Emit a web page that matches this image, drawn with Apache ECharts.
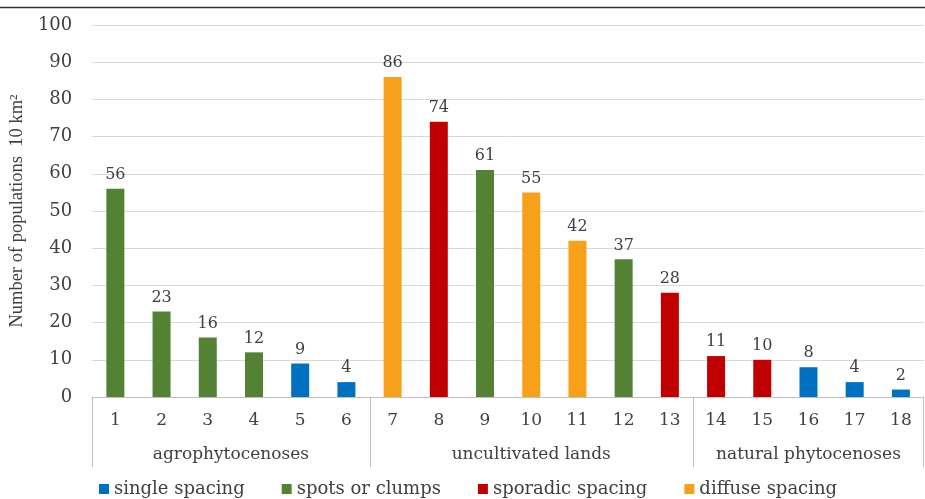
<!DOCTYPE html>
<html>
<head>
<meta charset="utf-8">
<script src="https://cdn.jsdelivr.net/npm/echarts@6/dist/echarts.min.js"></script>
<style>html,body{margin:0;padding:0;background:#fff}#c{width:925px;height:499px}</style>
</head>
<body>
<div id="c"></div>
<script>
const categories = ['1','2','3','4','5','6','7','8','9','10','11','12','13','14','15','16','17','18'];
const values = [56,23,16,12,9,4,86,74,61,55,42,37,28,11,10,8,4,2];
const patterns = ['spots','spots','spots','spots','single','single','diffuse','sporadic','spots','diffuse','diffuse','spots','sporadic','sporadic','sporadic','single','single','single'];
const seriesKeys = ['single','spots','sporadic','diffuse'];
const seriesNames = ['single spacing','spots or clumps','sporadic spacing','diffuse spacing'];
const seriesColors = ['#0070C0','#548235','#C00000','#F7A11A'];
const groups = ['agrophytocenoses','uncultivated lands','natural phytocenoses'];
const groupSizes = [6,7,5];
const yName = 'Number of populations  10 km\u00B2';

const FONT = 'DejaVu Serif';
const FONT_V = 'Liberation Serif';
const TXT = '#404040';
const chart = echarts.init(document.getElementById('c'));

const series = seriesKeys.map((k, si) => ({
  name: seriesNames[si],
  type: 'bar',
  stack: 'all',
  barWidth: 18,
  itemStyle: { color: seriesColors[si] },
  label: { show: true, position: 'top', distance: 6, color: TXT, fontFamily: FONT, fontSize: 16 },
  data: values.map((v, i) => patterns[i] === k ? v : '-')
}));

chart.setOption({
  animation: false,
  textStyle: { fontFamily: FONT },
  grid: { left: 92, right: 1, top: 25, bottom: 102 },
  legend: {
    top: 475, left: 94,
    itemWidth: 10, itemHeight: 10, itemGap: 37, icon: 'rect',
    textStyle: { fontFamily: FONT, fontSize: 18, color: TXT },
    data: seriesNames
  },
  xAxis: {
    type: 'category', data: categories,
    axisLine: { lineStyle: { color: '#bfbfbf' } },
    axisTick: { show: false },
    axisLabel: { color: TXT, fontFamily: FONT, fontSize: 17, margin: 15 }
  },
  yAxis: {
    type: 'value', min: 0, max: 100, interval: 10,
    name: yName, nameLocation: 'middle', nameGap: 62, nameRotate: 90,
    nameTextStyle: { color: TXT, fontFamily: FONT_V, fontSize: 18.5 },
    axisLine: { show: false }, axisTick: { show: false },
    axisLabel: { color: TXT, fontFamily: FONT, fontSize: 18, margin: 20 },
    splitLine: { lineStyle: { color: '#d9d9d9' } }
  },
  series: series
});

// group brackets and labels
const c0 = chart.convertToPixel({ xAxisIndex: 0 }, 0);
const c1 = chart.convertToPixel({ xAxisIndex: 0 }, 1);
const band = c1 - c0;
const yAxisPix = chart.convertToPixel({ yAxisIndex: 0 }, 0);
const graphics = [];
let start = 0;
const boundaries = [0];
groupSizes.forEach(s => { start += s; boundaries.push(start); });
boundaries.forEach(b => {
  const x = Math.round(c0 - band / 2 + b * band) - (b === categories.length ? 1 : 0);
  graphics.push({ type: 'line', shape: { x1: x + 0.5, y1: yAxisPix, x2: x + 0.5, y2: yAxisPix + 70 }, style: { stroke: '#bfbfbf', lineWidth: 1 } });
});
for (let g = 0; g < groups.length; g++) {
  const mid = (boundaries[g] + boundaries[g + 1]) / 2;
  const x = c0 - band / 2 + mid * band;
  graphics.push({ type: 'text', x: x, y: yAxisPix + 58, style: { text: groups[g], fill: TXT, font: '17px "' + FONT + '"', align: 'center', verticalAlign: 'middle' } });
}
graphics.push({ type: 'line', shape: { x1: 0, y1: 7.5, x2: 925, y2: 7.5 }, style: { stroke: '#333333', lineWidth: 1.5 } });
chart.setOption({ graphic: graphics });
</script>
</body>
</html>
